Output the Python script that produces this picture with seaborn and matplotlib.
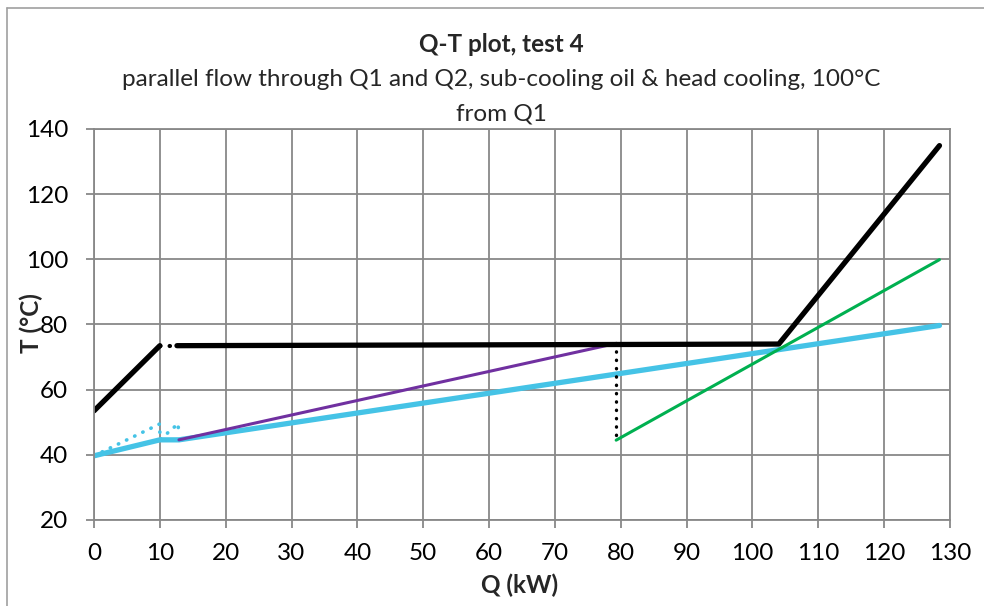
import matplotlib
matplotlib.use("Agg")
import matplotlib.pyplot as plt
import seaborn as sns
from matplotlib.lines import Line2D

# ---- data ----
hot_a_q = [0, 10]
hot_a_t = [53.5, 73.5]
hot_gap_q = [10, 12.6]
hot_gap_t = [73.5, 73.5]
hot_b_q = [12.6, 104.0, 128.4]
hot_b_t = [73.5, 74.0, 134.9]

drop_q = [79.3, 79.3]
drop_t = [74.2, 44.5]

green_q = [79.3, 128.4]
green_t = [44.5, 99.9]

purple_q = [12.9, 79.3]
purple_t = [44.6, 74.2]

cyan_q = [0, 10, 12.9, 128.4]
cyan_t = [39.7, 44.6, 44.6, 79.7]

cyan_dot_q = [0, 10, 10, 12.8, 12.8]
cyan_dot_t = [39.7, 49.5, 44.6, 49.6, 47.0]

x_ticks = list(range(0, 131, 10))
y_ticks = list(range(20, 141, 20))

title = "Q-T plot, test 4"
subtitle1 = "parallel flow through Q1 and Q2, sub-cooling oil & head cooling, 100°C"
subtitle2 = "from Q1"

# ---- style ----
sns.set_theme(style="white")
plt.rcParams["font.family"] = ["Lato", "DejaVu Sans"]

W, H = 984, 606
fig = plt.figure(figsize=(W / 100, H / 100), dpi=100)
L, R, B, T = 94, 950, 520, 129
ax = fig.add_axes([L / W, 1 - B / H, (R - L) / W, (B - T) / H])

grid_c = "#888888"
CYAN = "#45C3E6"
BLACK = "#000000"
PURPLE = "#7030A0"
GREEN = "#00B050"
FS = 17.5

def line(q, t, color, lw, ls="-", cap="round"):
    sns.lineplot(x=q, y=t, ax=ax, color=color, linewidth=lw, linestyle=ls,
                 sort=False, estimator=None, legend=False,
                 solid_capstyle=cap, dash_capstyle="round")

line(cyan_q, cyan_t, CYAN, 3.8)
line(cyan_dot_q, cyan_dot_t, CYAN, 2.6, ls=(0, (0.1, 2.4)))
line(purple_q, purple_t, PURPLE, 2.2)
line(green_q, green_t, GREEN, 2.2)
line(drop_q, drop_t, BLACK, 2.4, ls=(0, (0.1, 2.4)))
line(hot_a_q, hot_a_t, BLACK, 3.8)
line(hot_gap_q, hot_gap_t, BLACK, 3.0, ls=(0, (0.1, 2.2)))
line(hot_b_q, hot_b_t, BLACK, 3.8)

ax.set_xlim(0, 130)
ax.set_ylim(20, 140)
ax.set_xticks(x_ticks)
ax.set_yticks(y_ticks)
ax.grid(True, color=grid_c, linewidth=1.3)
ax.set_axisbelow(True)
for s in ax.spines.values():
    s.set_color(grid_c)
    s.set_linewidth(1.3)
ax.tick_params(axis="both", which="major", direction="out", length=5.5,
               width=1.3, color=grid_c, labelsize=FS, labelcolor="#000000")
ax.tick_params(axis="y", pad=13)
ax.tick_params(axis="x", pad=11)
ax.tick_params(left=True, bottom=True)

ax.set_xlabel("Q (kW)", fontsize=FS, fontweight="bold")
ax.set_ylabel("T (°C)", fontsize=FS, fontweight="bold")
ax.xaxis.label.set_va("center")
ax.yaxis.label.set_va("center")
ax.xaxis.set_label_coords((520 - L) / (R - L), -(585 - B) / (B - T))
ax.yaxis.set_label_coords(-(L - 31) / (R - L), (B - 323) / (B - T))

cx = 501 / W
fig.text(cx, 1 - 45 / H, title, ha="center", va="center", fontsize=FS, fontweight="bold")
fig.text(cx, 1 - 80 / H, subtitle1, ha="center", va="center", fontsize=FS)
fig.text(cx, 1 - 114 / H, subtitle2, ha="center", va="center", fontsize=FS)

# outer chart border (top and left visible)
fig.add_artist(Line2D([7 / W, 1.0], [1 - 8 / H, 1 - 8 / H], transform=fig.transFigure,
                      color="#A0A0A0", linewidth=1.2))
fig.add_artist(Line2D([7 / W, 7 / W], [0, 1 - 8 / H], transform=fig.transFigure,
                      color="#A0A0A0", linewidth=1.2))

fig.savefig("out.png", dpi=100, facecolor="white")
